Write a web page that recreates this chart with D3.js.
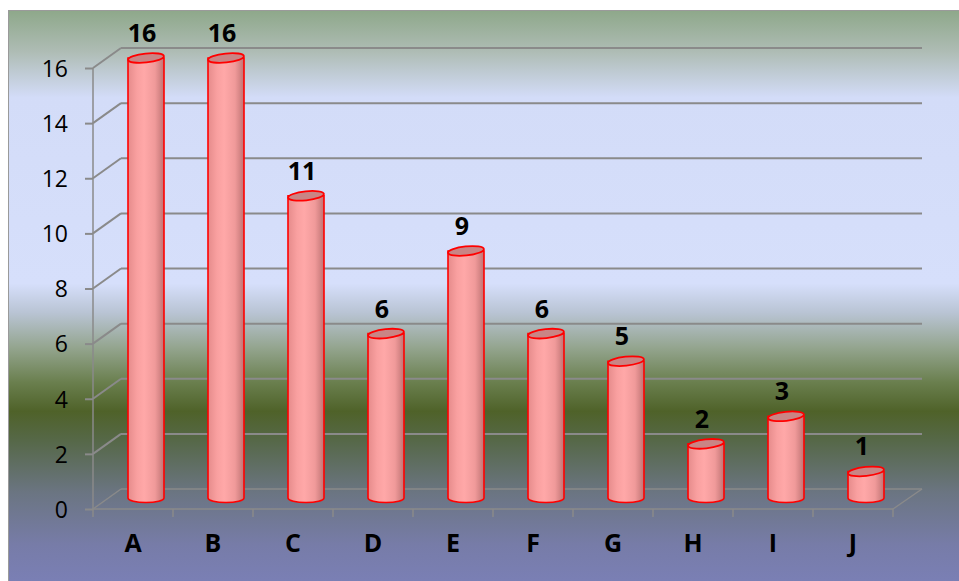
<!DOCTYPE html>
<html>
<head>
<meta charset="utf-8">
<script src="https://cdn.jsdelivr.net/npm/d3@7"></script>
<style>
  html, body { margin: 0; padding: 0; background: #ffffff; }
  svg { display: block; }
</style>
</head>
<body>
<svg id="chart" width="959" height="581"></svg>
<script>
// Categories and counts
const categories = ["A", "B", "C", "D", "E", "F", "G", "H", "I", "J"];
const counts = [16, 16, 11, 6, 9, 6, 5, 2, 3, 1];
const yTicks = [0, 2, 4, 6, 8, 10, 12, 14, 16];

const svg = d3.select("#chart");
const W = 959, H = 581;
const font = "'Open Sans', sans-serif";

// Plot frame (front face of the 3D box) and depth offset
const frontLeft = 93, frontRight = 893;
const frontBottom = 509, frontTop16 = 68;
const depthX = 28, depthY = -20;

const x = d3.scaleBand().domain(categories).range([frontLeft, frontRight]);
const y = d3.scaleLinear().domain([0, 16]).range([frontBottom, frontTop16]);

const defs = svg.append("defs");

// Background gradient of the chart area
const bg = defs.append("linearGradient").attr("id", "bg")
  .attr("x1", 0).attr("y1", 0).attr("x2", 0).attr("y2", 1);
[
  [0.00, "#8ea88a"],
  [0.07, "#aebcb4"],
  [0.15, "#d3dcf8"],
  [0.47, "#d6dffb"],
  [0.52, "#b9c4d4"],
  [0.58, "#94a58f"],
  [0.64, "#6a7f4e"],
  [0.69, "#4f6229"],
  [0.74, "#566848"],
  [0.83, "#6b7582"],
  [0.92, "#777ca8"],
  [1.00, "#7b80b8"]
].forEach(([o, c]) => bg.append("stop").attr("offset", o).attr("stop-color", c));

svg.append("rect")
  .attr("x", 8.5).attr("y", 10.5)
  .attr("width", W).attr("height", H)
  .attr("fill", "url(#bg)")
  .attr("stroke", "#9a9a9a").attr("stroke-width", 1);

// Cylinder body shading
const body = defs.append("linearGradient").attr("id", "cyl")
  .attr("x1", 0).attr("y1", 0).attr("x2", 1).attr("y2", 0);
[
  [0.00, "#e58b8b"],
  [0.25, "#f9a0a0"],
  [0.45, "#ffa8a8"],
  [0.75, "#f09a9a"],
  [1.00, "#bf7474"]
].forEach(([o, c]) => body.append("stop").attr("offset", o).attr("stop-color", c));

const gridColor = "#8a8a8a";
const grid = svg.append("g");

// Back-wall gridlines and side-wall diagonals
yTicks.forEach(t => {
  const yf = y(t);
  grid.append("line")
    .attr("x1", frontLeft).attr("y1", yf)
    .attr("x2", frontLeft + depthX).attr("y2", yf + depthY)
    .attr("stroke", gridColor).attr("stroke-width", t === 0 ? 1.5 : 2);
  grid.append("line")
    .attr("x1", frontLeft + depthX).attr("y1", yf + depthY)
    .attr("x2", frontRight + depthX + 1).attr("y2", yf + depthY)
    .attr("stroke", gridColor).attr("stroke-width", t === 0 ? 1.5 : 2);
});

// Floor: front edge and right diagonal
grid.append("line")
  .attr("x1", frontLeft).attr("y1", frontBottom)
  .attr("x2", frontRight).attr("y2", frontBottom)
  .attr("stroke", gridColor).attr("stroke-width", 1.5);
grid.append("line")
  .attr("x1", frontRight).attr("y1", frontBottom)
  .attr("x2", frontRight + depthX + 1).attr("y2", frontBottom + depthY)
  .attr("stroke", gridColor).attr("stroke-width", 1.5);

// Vertical value axis
const yAxis = d3.axisLeft(y).tickValues(yTicks).tickSize(8).tickPadding(17);
const ya = svg.append("g").attr("transform", `translate(${frontLeft},0)`).call(yAxis);
ya.select(".domain").attr("stroke", gridColor).attr("stroke-width", 1.5)
  .attr("d", `M0,${y(16)}V${y(0)}`);
ya.selectAll(".tick line").attr("stroke", gridColor).attr("stroke-width", 2);
ya.selectAll(".tick text")
  .attr("fill", "#000").attr("font-family", font)
  .attr("font-size", 23).attr("dy", "0.36em");

// Category axis along the front floor edge
const xAxis = d3.axisBottom(x).tickSize(0).tickPadding(25);
const xa = svg.append("g").attr("transform", `translate(0,${frontBottom})`).call(xAxis);
xa.select(".domain").remove();
xa.selectAll(".tick text")
  .attr("fill", "#000").attr("font-family", font)
  .attr("font-weight", "bold").attr("font-size", 25);

// Category separators on the front edge
const seps = d3.range(categories.length + 1).map(i => frontLeft + i * x.step());
svg.append("g").selectAll("line").data(seps).join("line")
  .attr("x1", d => d).attr("x2", d => d)
  .attr("y1", frontBottom).attr("y2", frontBottom + 8)
  .attr("stroke", gridColor).attr("stroke-width", 1.5);

// Cylinders
const r = 18, ry = 4.5;
const cx = c => x(c) + x.bandwidth() / 2 + depthX / 2 - 1;
const baseY = y(0) + depthY / 2 - 1;
const topY = v => y(v) + depthY / 2;

const bars = svg.append("g").selectAll("g")
  .data(categories.map((c, i) => ({ c, v: counts[i] })))
  .join("g");

bars.append("path")
  .attr("d", d => {
    const x0 = cx(d.c) - r, x1 = cx(d.c) + r, t = topY(d.v);
    return `M${x0},${t} L${x0},${baseY} A${r},${ry} 0 0 0 ${x1},${baseY} L${x1},${t} Z`;
  })
  .attr("fill", "url(#cyl)")
  .attr("stroke", "#ff0000").attr("stroke-width", 1.6);

bars.append("ellipse")
  .attr("cx", d => cx(d.c)).attr("cy", d => topY(d.v))
  .attr("rx", r).attr("ry", ry)
  .attr("transform", d => `rotate(-6,${cx(d.c)},${topY(d.v)})`)
  .attr("fill", "#c98585")
  .attr("stroke", "#ff0000").attr("stroke-width", 1.8);

// Value labels
bars.append("text")
  .attr("x", d => cx(d.c) - 4)
  .attr("y", d => topY(d.v) - 16)
  .attr("text-anchor", "middle")
  .attr("font-family", font)
  .attr("font-weight", "bold").attr("font-size", 25)
  .attr("fill", "#000")
  .text(d => d.v);
</script>
</body>
</html>
